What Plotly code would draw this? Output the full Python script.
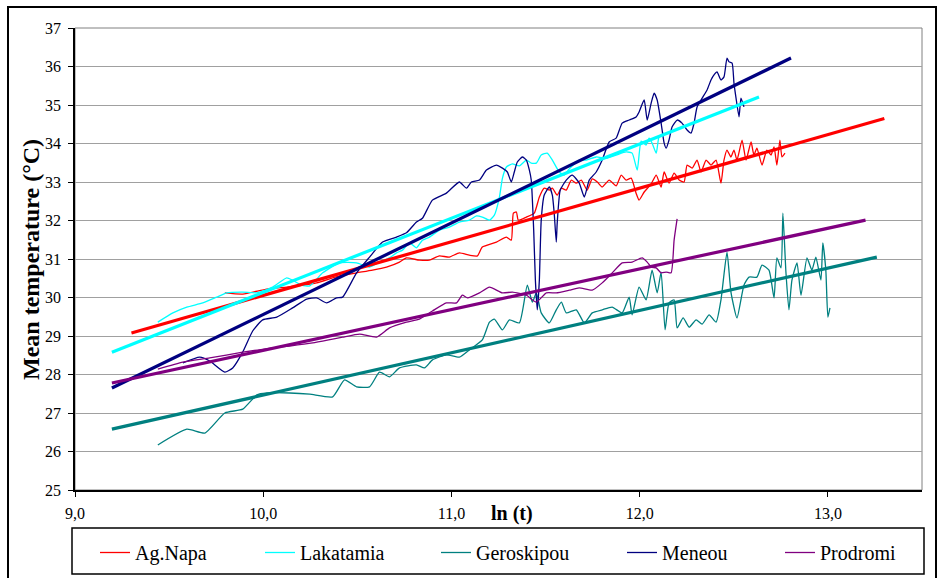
import plotly.graph_objects as go

# ---------------- data ----------------
x_ticks = [9.0, 10.0, 11.0, 12.0, 13.0]
y_ticks = list(range(25, 38))

napa_x = [9.796, 9.891, 10.019, 10.125, 10.210, 10.284, 10.406, 10.496, 10.581, 10.655,
          10.724, 10.761, 10.830, 10.883, 10.936, 10.989, 11.042, 11.095, 11.138, 11.164,
          11.239, 11.292, 11.318, 11.329, 11.345, 11.355, 11.398, 11.440, 11.467, 11.493,
          11.520, 11.536, 11.562, 11.584, 11.610, 11.637, 11.663, 11.690, 11.721, 11.748,
          11.775, 11.801, 11.838, 11.875, 11.902, 11.928, 11.955, 11.981, 11.997, 12.024,
          12.061, 12.088, 12.114, 12.130, 12.156, 12.183, 12.210, 12.236, 12.252, 12.279,
          12.305, 12.326, 12.353, 12.379, 12.406, 12.432, 12.448, 12.464, 12.485, 12.501,
          12.517, 12.544, 12.565, 12.592, 12.607, 12.623, 12.650, 12.676, 12.698, 12.714,
          12.729, 12.745, 12.756, 12.772]
napa_y = [30.12, 30.09, 30.22, 30.27, 30.32, 30.38, 30.56, 30.64, 30.71, 30.79,
          30.92, 31.03, 30.97, 30.97, 31.08, 31.05, 31.16, 31.10, 31.08, 31.31,
          31.44, 31.57, 31.49, 32.19, 32.22, 32.01, 32.09, 32.19, 32.61, 32.84,
          32.79, 32.84, 32.66, 32.84, 32.79, 33.05, 32.97, 33.05, 32.79, 33.08,
          33.00, 32.87, 33.05, 32.90, 33.18, 33.05, 33.10, 32.71, 32.53, 32.74,
          32.95, 33.18, 32.87, 33.26, 32.97, 33.23, 33.05, 33.00, 33.44, 33.36,
          33.57, 33.26, 33.57, 33.44, 33.57, 32.97, 33.57, 33.83, 33.65, 33.83,
          33.57, 34.09, 33.57, 34.04, 33.70, 33.88, 33.44, 33.83, 33.70, 33.91,
          33.44, 34.09, 33.65, 33.75]

lakatamia_x = [9.440, 9.520, 9.594, 9.679, 9.753, 9.806, 9.891, 9.966, 10.050, 10.125,
               10.156, 10.204, 10.247, 10.316, 10.406, 10.496, 10.565, 10.618, 10.671, 10.708,
               10.740, 10.777, 10.814, 10.846, 10.883, 10.936, 10.989, 11.042, 11.095, 11.133,
               11.164, 11.202, 11.228, 11.255, 11.271, 11.292, 11.324, 11.361, 11.398, 11.424,
               11.451, 11.477, 11.509, 11.536, 11.573, 11.599, 11.626, 11.679, 11.716, 11.769,
               11.822, 11.875, 11.928, 11.960, 11.987, 12.008, 12.034, 12.050, 12.066, 12.088,
               12.103, 12.130]
lakatamia_y = [29.36, 29.60, 29.75, 29.86, 30.01, 30.12, 30.14, 30.12, 30.27, 30.51,
               30.45, 30.32, 30.30, 30.64, 30.90, 30.90, 30.79, 30.92, 31.03, 31.16,
               31.23, 31.42, 31.29, 31.49, 31.57, 31.75, 31.83, 31.96, 32.01, 32.12,
               32.09, 32.01, 32.14, 32.61, 33.10, 33.39, 33.47, 33.42, 33.57, 33.49,
               33.49, 33.70, 33.75, 33.57, 33.26, 33.18, 33.34, 33.57, 33.57, 33.65,
               33.62, 33.70, 33.78, 33.75, 33.31, 34.06, 33.96, 34.14, 34.01, 33.75,
               34.17, 34.27]

geroskipou_x = [9.440, 9.594, 9.690, 9.796, 9.891, 9.966, 10.019, 10.141, 10.247, 10.369,
                10.432, 10.496, 10.565, 10.618, 10.671, 10.724, 10.814, 10.857, 10.899, 10.973,
                11.042, 11.095, 11.164, 11.202, 11.228, 11.271, 11.308, 11.361, 11.403, 11.430,
                11.451, 11.477, 11.520, 11.557, 11.584, 11.610, 11.663, 11.706, 11.748, 11.801,
                11.854, 11.907, 11.944, 11.960, 11.997, 12.034, 12.066, 12.093, 12.114, 12.135,
                12.156, 12.183, 12.199, 12.231, 12.263, 12.300, 12.332, 12.369, 12.406, 12.432,
                12.464, 12.485, 12.517, 12.554, 12.581, 12.623, 12.650, 12.687, 12.714, 12.729,
                12.751, 12.761, 12.777, 12.793, 12.809, 12.836, 12.857, 12.889, 12.915, 12.936,
                12.963, 12.973, 12.989, 13.000, 13.011]
geroskipou_y = [26.17, 26.58, 26.48, 27.00, 27.10, 27.47, 27.52, 27.52, 27.49, 27.42,
                27.86, 27.68, 27.68, 28.06, 27.94, 28.17, 28.25, 28.17, 28.38, 28.51,
                28.45, 28.64, 28.90, 29.36, 29.44, 29.16, 29.42, 29.34, 30.32, 29.88,
                30.12, 29.60, 29.34, 29.68, 29.88, 29.60, 29.68, 29.34, 29.60, 29.68,
                29.75, 29.60, 30.01, 29.55, 30.27, 29.94, 30.71, 30.12, 30.66, 29.16,
                29.86, 29.94, 29.21, 29.47, 29.23, 29.42, 29.31, 29.55, 29.36, 29.94,
                31.18, 30.14, 29.47, 30.32, 30.53, 30.53, 30.84, 30.71, 29.99, 31.03,
                30.77, 32.19, 30.66, 29.68, 30.45, 30.90, 30.06, 31.03, 30.71, 31.05,
                30.45, 31.42, 30.71, 29.49, 29.73]

meneou_x = [9.573, 9.663, 9.716, 9.796, 9.838, 9.891, 9.944, 9.997, 10.072, 10.156,
            10.231, 10.284, 10.337, 10.390, 10.422, 10.496, 10.565, 10.634, 10.708, 10.761,
            10.814, 10.846, 10.899, 10.973, 11.042, 11.080, 11.106, 11.149, 11.186, 11.239,
            11.271, 11.297, 11.318, 11.334, 11.350, 11.377, 11.398, 11.414, 11.424, 11.437,
            11.446, 11.456, 11.467, 11.477, 11.493, 11.520, 11.536, 11.546, 11.557, 11.562,
            11.578, 11.610, 11.642, 11.679, 11.706, 11.732, 11.769, 11.801, 11.838, 11.875,
            11.907, 11.944, 11.981, 11.997, 12.024, 12.040, 12.061, 12.077, 12.093, 12.114,
            12.130, 12.141, 12.156, 12.172, 12.199, 12.225, 12.252, 12.273, 12.289, 12.305,
            12.332, 12.358, 12.379, 12.395, 12.411, 12.432, 12.448, 12.464, 12.475, 12.491,
            12.501, 12.512, 12.528, 12.538, 12.554]
meneou_y = [28.30, 28.45, 28.35, 28.06, 28.17, 28.58, 29.13, 29.42, 29.49, 29.73,
            29.96, 29.99, 29.86, 29.99, 30.01, 30.64, 31.05, 31.44, 31.57, 31.68,
            31.96, 32.06, 32.53, 32.71, 33.00, 32.84, 33.00, 33.05, 33.31, 33.44,
            33.36, 33.26, 33.00, 33.26, 33.52, 33.65, 33.57, 33.31, 33.05, 31.75,
            30.45, 29.68, 30.45, 32.01, 32.66, 32.87, 32.66, 32.19, 31.44, 31.94,
            32.79, 33.05, 33.18, 32.97, 32.61, 33.05, 33.26, 33.57, 34.04, 34.14,
            34.53, 34.61, 34.69, 34.82, 35.13, 34.61, 35.05, 35.31, 35.13, 34.53,
            34.01, 33.88, 34.09, 34.43, 34.61, 34.53, 34.35, 34.27, 34.53, 34.95,
            35.18, 35.39, 35.65, 35.78, 35.86, 35.65, 35.73, 36.22, 36.12, 36.09,
            35.57, 35.18, 34.69, 35.18, 34.95]

prodromi_x = [9.440, 9.573, 9.716, 9.891, 10.050, 10.141, 10.263, 10.369, 10.422, 10.512,
              10.602, 10.671, 10.761, 10.830, 10.899, 10.973, 11.027, 11.058, 11.085, 11.149,
              11.202, 11.271, 11.324, 11.398, 11.451, 11.504, 11.557, 11.626, 11.679, 11.748,
              11.801, 11.854, 11.907, 11.960, 12.013, 12.040, 12.061, 12.088, 12.114, 12.141,
              12.167, 12.183, 12.199]
prodromi_y = [28.14, 28.32, 28.43, 28.58, 28.69, 28.74, 28.82, 28.92, 28.97, 29.05,
              28.97, 29.21, 29.36, 29.44, 29.65, 29.86, 29.86, 30.06, 29.99, 30.12,
              30.27, 30.12, 30.14, 30.06, 29.88, 30.12, 30.12, 30.19, 30.25, 30.19,
              30.38, 30.64, 30.90, 30.92, 31.03, 30.92, 30.79, 30.77, 30.64, 30.66,
              30.64, 31.49, 32.04]

# linear trend lines (end points)
napa_trend_x, napa_trend_y = [9.30, 13.30], [29.08, 34.65]
lakatamia_trend_x, lakatamia_trend_y = [9.196, 12.634], [28.58, 35.21]
geroskipou_trend_x, geroskipou_trend_y = [9.196, 13.26], [26.58, 31.05]
meneou_trend_x, meneou_trend_y = [9.196, 12.804], [27.65, 36.22]
prodromi_trend_x, prodromi_trend_y = [9.196, 13.20], [27.78, 32.01]

names = ["Ag.Napa", "Lakatamia", "Geroskipou", "Meneou", "Prodromi"]
colors = ["#FF0000", "#00FFFF", "#008080", "#000080", "#800080"]
legend_widths = [120, 131, 141, 113, 90]

series = [
    (napa_x, napa_y, napa_trend_x, napa_trend_y),
    (lakatamia_x, lakatamia_y, lakatamia_trend_x, lakatamia_trend_y),
    (geroskipou_x, geroskipou_y, geroskipou_trend_x, geroskipou_trend_y),
    (meneou_x, meneou_y, meneou_trend_x, meneou_trend_y),
    (prodromi_x, prodromi_y, prodromi_trend_x, prodromi_trend_y),
]

FONT = "'Liberation Serif', 'Times New Roman', Times, serif"

fig = go.Figure()
for name, col, lw, (sx, sy, tx, ty) in zip(names, colors, legend_widths, series):
    fig.add_trace(go.Scatter(x=sx, y=sy, mode="lines", name=name,
                             line=dict(color=col, width=1.3, shape="spline", smoothing=0.5),
                             legendwidth=lw))
for name, col, (sx, sy, tx, ty) in zip(names, colors, series):
    fig.add_trace(go.Scatter(x=tx, y=ty, mode="lines", showlegend=False,
                             line=dict(color=col, width=3.2)))

W, H = 937, 578
L, R, T, B = 75, 15, 28, 88
pw, ph = W - L - R, H - T - B


def px(xp):
    return (xp - L) / pw


def py(yp):
    return (H - B - yp) / ph


fig.update_layout(
    width=W, height=H,
    margin=dict(l=L, r=R, t=T, b=B, autoexpand=False),
    paper_bgcolor="white", plot_bgcolor="white",
    separators=", ",
    font=dict(family=FONT, size=16, color="black"),
    showlegend=True,
    legend=dict(orientation="h", x=px(95), y=py(533), xanchor="left", yanchor="top",
                font=dict(family=FONT, size=20, color="black"),
                bgcolor="rgba(0,0,0,0)", borderwidth=0, traceorder="normal"),
    xaxis=dict(range=[9, 13.5], tickvals=x_ticks, tickformat=".1f",
               showgrid=False, zeroline=False, showline=True, linecolor="black", linewidth=1.5,
               ticks="outside", ticklen=5, tickcolor="black", tickwidth=1,
               tickfont=dict(family=FONT, size=16, color="black"), ticklabelstandoff=3),
    yaxis=dict(range=[25, 37], tickvals=y_ticks,
               showgrid=True, gridcolor="#a0a0a0", gridwidth=1, zeroline=False,
               showline=True, linecolor="black", linewidth=1.5,
               ticks="outside", ticklen=5, tickcolor="black", tickwidth=1,
               tickfont=dict(family=FONT, size=16, color="black"), ticklabelstandoff=4),
    shapes=[
        dict(type="rect", xref="paper", yref="paper", x0=0, x1=1, y0=0, y1=1,
             line=dict(color="#808080", width=1), layer="below"),
        dict(type="rect", xref="paper", yref="paper", x0=px(72), x1=px(924), y0=py(528), y1=py(574),
             line=dict(color="black", width=1.5)),
        dict(type="rect", xref="paper", yref="paper", x0=px(8), x1=px(936), y0=py(7), y1=py(581),
             line=dict(color="black", width=2)),
    ],
    annotations=[
        dict(text="<b>ln (t)</b>", xref="paper", yref="paper", x=px(512), y=py(513),
             xanchor="center", yanchor="middle", showarrow=False,
             font=dict(family=FONT, size=20, color="black")),
        dict(text="<b>Mean temperature (°C)</b>", xref="paper", yref="paper", x=px(31), y=py(260),
             xanchor="center", yanchor="middle", showarrow=False, textangle=-90,
             font=dict(family=FONT, size=24, color="black")),
    ],
)

fig.write_html("out.html")
